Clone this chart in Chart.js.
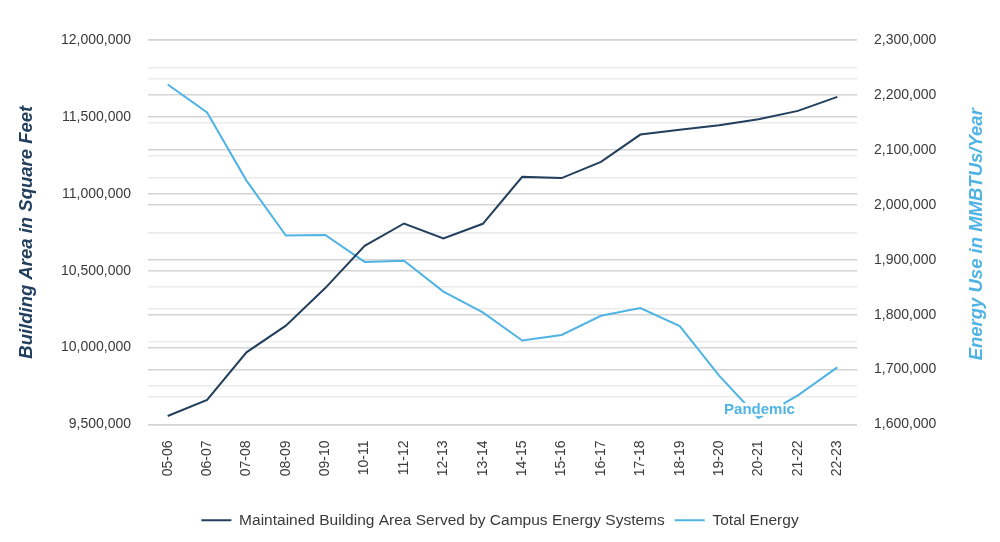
<!DOCTYPE html>
<html>
<head>
<meta charset="utf-8">
<script src="https://cdn.jsdelivr.net/npm/chart.js@4/dist/chart.umd.min.js"></script>
<style>
  body { margin: 0; background: #fff; }
  #wrap { width: 1000px; height: 542px; }
</style>
</head>
<body>
<div id="wrap"><canvas id="myChart"></canvas></div>
<script>
const years = [
  '05-06', '06-07', '07-08', '08-09', '09-10', '10-11', '11-12', '12-13', '13-14',
  '14-15', '15-16', '16-17', '17-18', '18-19', '19-20', '20-21', '21-22', '22-23',
];

// square feet, left axis
const buildingArea = [
  9555000, 9660000, 9969000, 10143000, 10387000, 10662000, 10807000, 10710000, 10805000,
  11110000, 11102000, 11208000, 11385000, 11416000, 11446000, 11485000, 11539000, 11630000,
];

// MMBTUs per year, right axis
const totalEnergy = [
  2219000, 2168000, 2044000, 1944000, 1945000, 1896000, 1898000, 1842000, 1804000,
  1753000, 1763000, 1798000, 1812000, 1779000, 1689000, 1612000, 1653000, 1704000,
];

const pandemicIndex = years.indexOf('20-21');

const darkBlue = '#223f5e';
const lightBlue = '#4fb4e4';
const tickColor = '#3a3a3a';
const fontFamily = '"Liberation Sans", Arial, Helvetica, sans-serif';

const fmt = v => v.toLocaleString('en-US');

const gridColor = step => ctx =>
  ctx.tick && ctx.tick.value % step === 0 ? '#d4d4d4' : '#ebebeb';

// right title reads bottom-to-top, plus the "Pandemic" note
const extras = {
  id: 'extras',
  afterDatasetsDraw(chart) {
    const { ctx, scales } = chart;
    const x = scales.x.getPixelForValue(pandemicIndex);
    const y = scales.y1.getPixelForValue(totalEnergy[pandemicIndex]);
    ctx.save();
    ctx.font = 'bold 15px ' + fontFamily;
    const w = ctx.measureText('Pandemic').width;
    ctx.fillStyle = '#fff';
    ctx.fillRect(x - w / 2 - 1, y - 15, w + 2, 13);
    ctx.fillStyle = lightBlue;
    ctx.textAlign = 'center';
    ctx.textBaseline = 'middle';
    ctx.fillText('Pandemic', x + 1, y - 8);
    ctx.restore();
  },
  afterDraw(chart) {
    const { ctx, chartArea } = chart;
    ctx.save();
    ctx.translate(977, (chartArea.top + chartArea.bottom) / 2 + 2);
    ctx.rotate(-Math.PI / 2);
    ctx.font = 'italic bold 18.5px ' + fontFamily;
    ctx.fillStyle = lightBlue;
    ctx.textAlign = 'center';
    ctx.textBaseline = 'middle';
    ctx.fillText('Energy Use in MMBTUs/Year', 0, 0);
    ctx.restore();
  },
};

new Chart(document.getElementById('myChart'), {
  type: 'line',
  data: {
    labels: years,
    datasets: [
      {
        label: 'Maintained Building Area Served by Campus Energy Systems',
        data: buildingArea,
        yAxisID: 'y',
        borderColor: darkBlue,
        backgroundColor: darkBlue,
        borderWidth: 2,
        pointRadius: 0,
        tension: 0,
      },
      {
        label: 'Total Energy',
        data: totalEnergy,
        yAxisID: 'y1',
        borderColor: lightBlue,
        backgroundColor: lightBlue,
        borderWidth: 2,
        pointRadius: 0,
        tension: 0,
      },
    ],
  },
  options: {
    responsive: true,
    maintainAspectRatio: false,
    animation: false,
    layout: { padding: { top: 40, bottom: 4, left: 0, right: 0 } },
    plugins: {
      legend: {
        position: 'bottom',
        labels: {
          usePointStyle: true,
          pointStyle: 'line',
          pointStyleWidth: 30,
          padding: 10,
          color: tickColor,
          font: { family: fontFamily, size: 15.5 },
        },
      },
      tooltip: { enabled: false },
    },
    scales: {
      x: {
        offset: true,
        grid: { display: false, drawTicks: false },
        border: { display: false },
        ticks: {
          minRotation: 90,
          maxRotation: 90,
          autoSkip: false,
          padding: 16,
          color: tickColor,
          font: { family: fontFamily, size: 14 },
        },
        afterFit: scale => { scale.height = 78; },
      },
      y: {
        position: 'left',
        min: 9500000,
        max: 12000000,
        border: { display: false },
        grid: { color: gridColor(500000), lineWidth: 1.5, drawTicks: false },
        ticks: {
          stepSize: 250000,
          autoSkip: false,
          padding: 17,
          color: tickColor,
          font: { family: fontFamily, size: 14 },
          callback: v => (v % 500000 === 0 ? fmt(v) : ''),
        },
        title: {
          display: true,
          text: 'Building Area in Square Feet',
          color: darkBlue,
          padding: { top: 16, bottom: 0 },
          font: { family: fontFamily, size: 18.5, weight: 'bold', style: 'italic' },
        },
        afterFit: scale => { scale.width = 148; },
      },
      y1: {
        position: 'right',
        min: 1600000,
        max: 2300000,
        border: { display: false },
        grid: { color: gridColor(100000), lineWidth: 1.5, drawTicks: false },
        ticks: {
          stepSize: 50000,
          autoSkip: false,
          padding: 17,
          color: tickColor,
          font: { family: fontFamily, size: 14 },
          callback: v => (v % 100000 === 0 ? fmt(v) : ''),
        },
        afterFit: scale => { scale.width = 143; },
      },
    },
  },
  plugins: [extras],
});
</script>
</body>
</html>
